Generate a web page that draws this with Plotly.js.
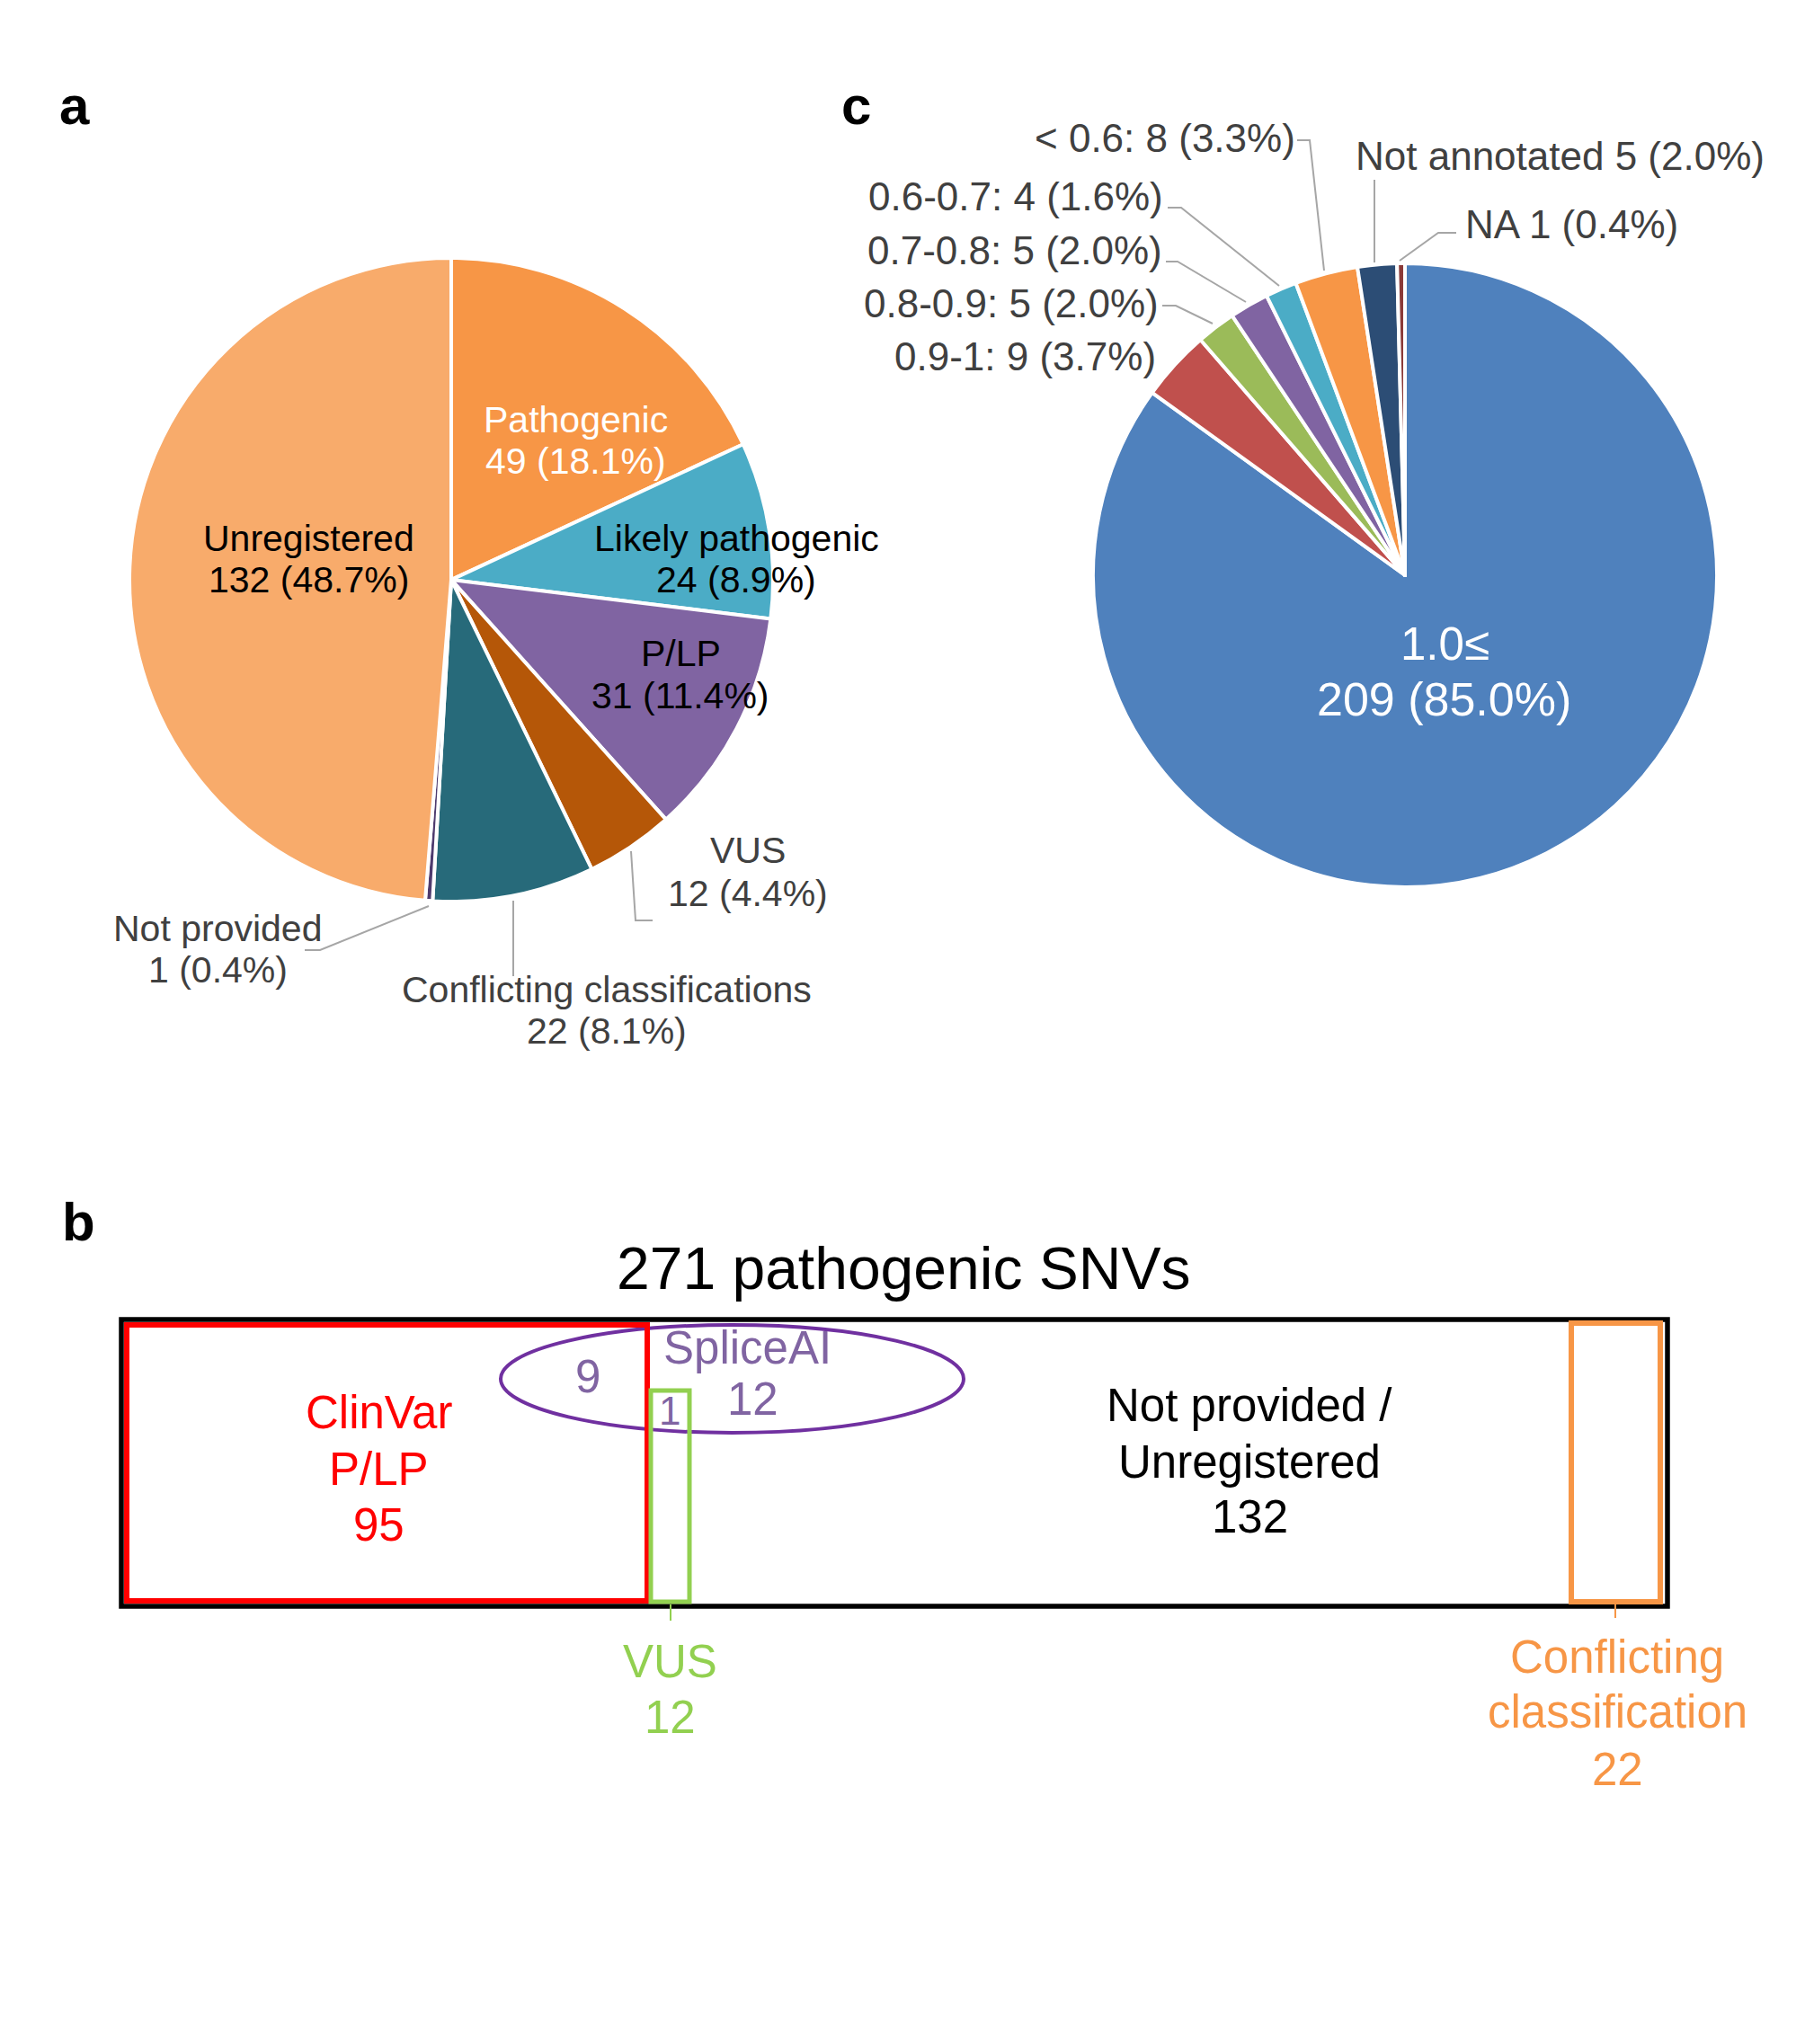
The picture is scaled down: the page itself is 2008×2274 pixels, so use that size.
<!DOCTYPE html>
<html>
<head>
<meta charset="utf-8">
<script src="https://cdn.plot.ly/plotly-3.0.1.min.js"></script>
<style>
  html, body { margin: 0; padding: 0; background: #ffffff; }
  #chart { width: 2008px; height: 2274px; }
</style>
</head>
<body>
<div id="chart"></div>
<script>
// ---------------- DATA ----------------
// Panel a: ClinVar classification of the 271 SNVs
const aLabels = ['Pathogenic', 'Likely pathogenic', 'P/LP', 'VUS', 'Conflicting classifications', 'Not provided', 'Unregistered'];
const aValues = [49, 24, 31, 12, 22, 1, 132];
const aColors = ['#F79646', '#4BACC6', '#8064A2', '#B55708', '#276A7A', '#4E3B6E', '#F8AB6B'];

// Panel c: SpliceAI score bins
const cLabels = ['1.0\u2264', '0.9-1', '0.8-0.9', '0.7-0.8', '0.6-0.7', '< 0.6', 'Not annotated', 'NA'];
const cValues = [209, 9, 5, 5, 4, 8, 5, 1];
const cSep    = ['<br>', ': ', ': ', ': ', ': ', ': ', ' ', ' '];
const cColors = ['#4F81BD', '#C0504D', '#9BBB59', '#8064A2', '#4BACC6', '#F79646', '#2C4D75', '#8B3A38'];

// Panel b: overlap diagram counts
const bTitleCount = 271;
const bClinvarPLP = 95;
const bVUS = 12;
const bUnregistered = 132;
const bConflicting = 22;
const bSpliceAI = 12;
const bSpliceInPLP = 9;
const bSpliceInVUS = 1;

// ---------------- HELPERS ----------------
const W = 2008, H = 2274;
const FONT = 'Liberation Sans, Arial, Helvetica, sans-serif';
const px = x => x / W;
const py = y => 1 - y / H;
const pct = (v, arr) => (v / arr.reduce((s, t) => s + t, 0) * 100).toFixed(1);

const annotations = [];
function ann(text, x, y, size, color, xanchor, bold) {
  annotations.push({
    text: bold ? '<b>' + text + '</b>' : text,
    x: px(x), y: py(y), xref: 'paper', yref: 'paper',
    xanchor: xanchor || 'center', yanchor: 'middle',
    showarrow: false,
    font: { family: FONT, size: size, color: color }
  });
}
const shapes = [];
function leader(points) {
  let d = '';
  points.forEach((p, i) => { d += (i ? 'L' : 'M') + px(p[0]) + ',' + py(p[1]); });
  shapes.push({ type: 'path', xref: 'paper', yref: 'paper', path: d,
    line: { color: '#A6A6A6', width: 2 } });
}
function box(type, x0, y0, x1, y1, color, width) {
  shapes.push({ type: type, xref: 'paper', yref: 'paper',
    x0: px(x0), x1: px(x1), y0: py(y1), y1: py(y0),
    line: { color: color, width: width }, fillcolor: 'rgba(0,0,0,0)' });
}
function domain(cx, cy, r) {
  return { x: [px(cx - r), px(cx + r)], y: [py(cy + r), py(cy - r)] };
}

// ---------------- TRACES ----------------
const traces = [
  {
    type: 'pie', labels: aLabels, values: aValues, sort: false,
    direction: 'clockwise', rotation: 0,
    marker: { colors: aColors, line: { color: '#ffffff', width: 4 } },
    textinfo: 'none', hoverinfo: 'label+value+percent',
    domain: domain(502, 645, 358), showlegend: false
  },
  {
    type: 'pie', labels: cLabels, values: cValues, sort: false,
    direction: 'clockwise', rotation: 0,
    marker: { colors: cColors, line: { color: '#ffffff', width: 4 } },
    textinfo: 'none', hoverinfo: 'label+value+percent',
    domain: domain(1563, 640, 347), showlegend: false
  }
];

// ---------------- PANEL LABELS ----------------
ann('a', 83, 117, 60, '#000000', 'center', true);
ann('c', 952, 117, 60, '#000000', 'center', true);
ann('b', 87, 1359, 60, '#000000', 'center', true);

// ---------------- PANEL a LABELS ----------------
const aLabelPos = [
  [640, 467, 513, '#FFFFFF'],   // Pathogenic
  [819, 599, 645, '#000000'],   // Likely pathogenic
  [757, 727, 774, '#000000'],   // P/LP
  [832, 946, 994, '#404040'],   // VUS
  [675, 1101, 1147, '#404040'], // Conflicting
  [242, 1033, 1079, '#404040'], // Not provided
  [343, 599, 645, '#000000']    // Unregistered
];
aLabels.forEach((lab, i) => {
  const p = aLabelPos[i];
  ann(lab, p[0], p[1], 41, p[3]);
  ann(aValues[i] + ' (' + pct(aValues[i], aValues) + '%)', p[0], p[2], 41, p[3]);
});
leader([[702, 947], [707, 1024], [726, 1024]]);
leader([[571, 1002], [571, 1086]]);
leader([[477, 1008], [356, 1057], [339, 1057]]);

// ---------------- PANEL c LABELS ----------------
// big slice (inside, two lines)
ann(cLabels[0], 1607, 716, 51, '#FFFFFF');
ann(cValues[0] + ' (' + pct(cValues[0], cValues) + '%)', 1606, 778, 52, '#FFFFFF');
const cLabelPos = [
  null,
  [1288, 396, 'right'],
  [1291, 337, 'right'],
  [1295, 278, 'right'],
  [1296, 219, 'right'],
  [1443, 153, 'right'],
  [1506, 173, 'left'],
  [1628, 249, 'left']
];
for (let i = 1; i < cLabels.length; i++) {
  const p = cLabelPos[i];
  ann(cLabels[i] + cSep[i] + cValues[i] + ' (' + pct(cValues[i], cValues) + '%)',
      p[0], p[1], 44, '#404040', p[2]);
}
leader([[1443, 156], [1457, 156], [1473, 301]]);
leader([[1299, 231], [1314, 231], [1423, 318]]);
leader([[1297, 291], [1310, 291], [1386, 336]]);
leader([[1293, 340], [1308, 340], [1349, 360]]);
leader([[1529, 200], [1529, 292]]);
leader([[1557, 290], [1600, 259], [1620, 259]]);

// ---------------- PANEL b DIAGRAM ----------------
box('rect', 135, 1468, 1855, 1787, '#000000', 5.5);
box('circle', 557, 1474, 1072, 1594, '#7030A0', 4);
box('rect', 141, 1474, 720, 1781, '#FF0000', 6);
box('rect', 724, 1547, 767, 1782, '#92D050', 5);
box('rect', 1748, 1472, 1847, 1782, '#F79646', 6);
shapes.push({ type: 'line', xref: 'paper', yref: 'paper', x0: px(746), x1: px(746), y0: py(1785), y1: py(1803), line: { color: '#92D050', width: 2 } });
shapes.push({ type: 'line', xref: 'paper', yref: 'paper', x0: px(1797), x1: px(1797), y0: py(1785), y1: py(1800), line: { color: '#F79646', width: 2 } });

ann(bTitleCount + ' pathogenic SNVs', 1005, 1411, 66, '#000000');
ann('ClinVar', 421, 1571, 51, '#FF0000');
ann('P/LP', 421, 1634, 51, '#FF0000');
ann(String(bClinvarPLP), 421, 1696, 51, '#FF0000');
ann(String(bSpliceInPLP), 654, 1531, 51, '#8064A2');
ann('SpliceAI', 831, 1499, 51, '#8064A2');
ann(String(bSpliceAI), 837, 1556, 51, '#8064A2');
ann(String(bSpliceInVUS), 745, 1569, 44, '#8064A2');
ann('Not provided /', 1390, 1563, 51, '#000000');
ann('Unregistered', 1390, 1626, 51, '#000000');
ann(String(bUnregistered), 1390, 1687, 51, '#000000');
ann('VUS', 745, 1848, 51, '#92D050');
ann(String(bVUS), 745, 1910, 51, '#92D050');
ann('Conflicting', 1799, 1843, 51, '#F79646');
ann('classification', 1799, 1904, 51, '#F79646');
ann(String(bConflicting), 1799, 1968, 51, '#F79646');

// ---------------- LAYOUT ----------------
const layout = {
  width: W, height: H,
  margin: { l: 0, r: 0, t: 0, b: 0, pad: 0 },
  paper_bgcolor: '#ffffff', plot_bgcolor: '#ffffff',
  showlegend: false,
  font: { family: FONT },
  annotations: annotations,
  shapes: shapes
};

Plotly.newPlot('chart', traces, layout, { staticPlot: true, displayModeBar: false });
</script>
</body>
</html>
